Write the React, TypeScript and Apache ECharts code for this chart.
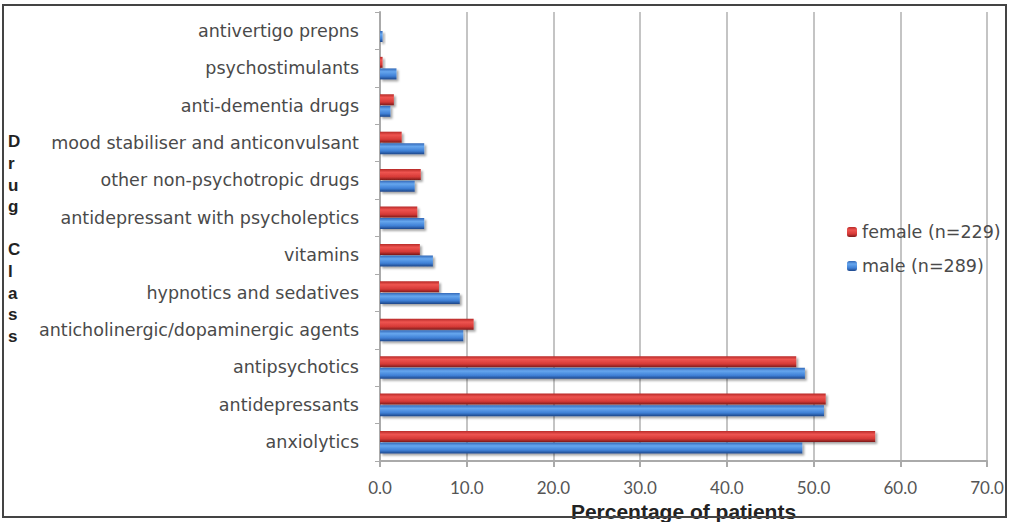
import React, { useEffect, useRef } from "react";
import * as echarts from "echarts";

const categories = [
  "anxiolytics",
  "antidepressants",
  "antipsychotics",
  "anticholinergic/dopaminergic agents",
  "hypnotics and sedatives",
  "vitamins",
  "antidepressant with psycholeptics",
  "other non-psychotropic drugs",
  "mood stabiliser and anticonvulsant",
  "anti-dementia drugs",
  "psychostimulants",
  "antivertigo prepns",
];
const femaleValues = [57.1, 51.4, 48.0, 10.8, 6.8, 4.6, 4.3, 4.7, 2.5, 1.6, 0.3, 0];
const maleValues = [48.7, 51.2, 49.0, 9.6, 9.2, 6.1, 5.1, 4.0, 5.1, 1.2, 1.9, 0.3];
const femaleName = "female (n=229)";
const maleName = "male (n=289)";
const xTicks = [0, 10, 20, 30, 40, 50, 60, 70];

const redGrad = new echarts.graphic.LinearGradient(0, 0, 0, 1, [
  { offset: 0, color: "#b82a28" },
  { offset: 0.3, color: "#ee5450" },
  { offset: 0.7, color: "#d63a37" },
  { offset: 1, color: "#7c1a1a" },
]);
const blueGrad = new echarts.graphic.LinearGradient(0, 0, 0, 1, [
  { offset: 0, color: "#3268b8" },
  { offset: 0.3, color: "#66a6ee" },
  { offset: 0.7, color: "#3f80d6" },
  { offset: 1, color: "#1d4689" },
]);

export default function App() {
  const ref = useRef<HTMLDivElement>(null);
  useEffect(() => {
    document.body.style.margin = "0";
    const chart = echarts.init(ref.current!, null, { renderer: "svg" });
    const font = "'DejaVu Sans', sans-serif";
    chart.setOption({
      animation: false,
      backgroundColor: "#ffffff",
      textStyle: { fontFamily: font },
      grid: {
        left: 380,
        right: 22,
        top: 12,
        bottom: 61,
        containLabel: false,
        outerBoundsMode: "none",
      },
      legend: {
        orient: "vertical",
        left: 842,
        top: 218,
        itemWidth: 10,
        itemHeight: 10,
        itemGap: 16,
        data: [femaleName, maleName],
        textStyle: { fontSize: 17.5, color: "#4a4a4a", fontFamily: font },
      },
      xAxis: {
        type: "value",
        min: 0,
        max: 70,
        interval: 10,
        name: "Percentage of patients",
        nameLocation: "middle",
        nameGap: 37,
        nameTextStyle: {
          fontSize: 21,
          fontWeight: "bold",
          color: "#222",
          fontFamily: "'Liberation Sans', Arial, sans-serif",
        },
        axisLine: { show: true, lineStyle: { color: "#aaa", width: 2 } },
        axisTick: { show: true, length: 6, lineStyle: { color: "#aaa", width: 2 } },
        axisLabel: {
          margin: 18,
          fontSize: 17,
          color: "#555",
          fontFamily: "Lato, sans-serif",
          formatter: (v: number) => (xTicks.includes(v) ? v.toFixed(1) : ""),
        },
        splitLine: { show: true, lineStyle: { color: "#c4c4c4", width: 2 } },
      },
      yAxis: {
        type: "category",
        data: categories,
        axisLine: { show: true, lineStyle: { color: "#aaa", width: 2 } },
        axisTick: { show: true, length: 5, lineStyle: { color: "#aaa" } },
        axisLabel: { margin: 21, fontSize: 17.5, color: "#4a4a4a", fontFamily: font },
      },
      series: [
        {
          name: femaleName,
          type: "bar",
          data: femaleValues,
          barWidth: 11,
          barGap: "5%",
          itemStyle: {
            color: redGrad,
            shadowColor: "rgba(0,0,0,0.35)",
            shadowBlur: 2,
            shadowOffsetX: 2,
            shadowOffsetY: 2,
          },
        },
        {
          name: maleName,
          type: "bar",
          data: maleValues,
          barWidth: 11,
          barGap: "5%",
          itemStyle: {
            color: blueGrad,
            shadowColor: "rgba(0,0,0,0.35)",
            shadowBlur: 2,
            shadowOffsetX: 2,
            shadowOffsetY: 2,
          },
        },
      ],
      graphic: [
        {
          type: "text",
          left: 8,
          top: 131,
          style: {
            text: "D\nr\nu\ng\n\nC\nl\na\ns\ns",
            font: "bold 17px 'Liberation Sans', Arial, sans-serif",
            lineHeight: 21.6,
            fill: "#222",
            align: "left",
          },
        },
        {
          type: "rect",
          z: 100,
          shape: { x: 3, y: 5, width: 1003, height: 512 },
          style: { fill: "none", stroke: "#444", lineWidth: 2 },
        },
      ],
    });
    return () => chart.dispose();
  }, []);
  return <div ref={ref} style={{ width: 1009, height: 522 }} />;
}
